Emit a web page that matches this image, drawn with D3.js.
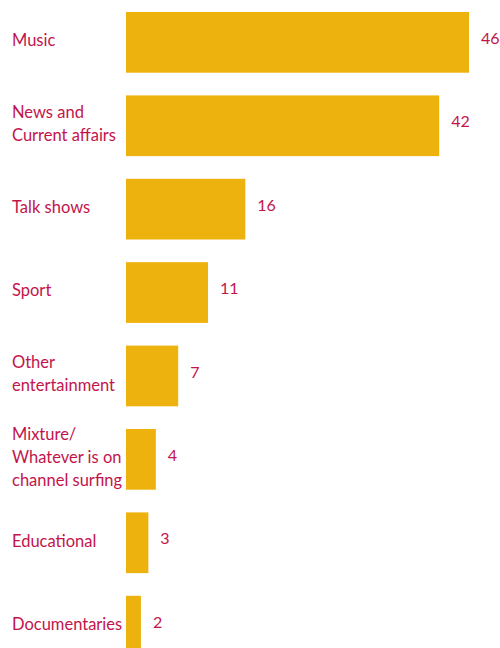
<!DOCTYPE html>
<html>
<head>
<meta charset="utf-8">
<script src="https://cdn.jsdelivr.net/npm/d3@7"></script>
<style>
  html, body { margin: 0; padding: 0; background: #fff; }
  svg { display: block; }
  text { font-family: Lato, "Noto Sans", sans-serif; }
</style>
</head>
<body>
<script>
// Favourite programme types, in percent
const categories = [
  "Music",
  "News and\nCurrent affairs",
  "Talk shows",
  "Sport",
  "Other\nentertainment",
  "Mixture/\nWhatever is on\nchannel surfing",
  "Educational",
  "Documentaries"
];
const values = [46, 42, 16, 11, 7, 4, 3, 2];

const width = 500, height = 648;
const barColor = "#edb20e";
const textColor = "#c2144b";

const svg = d3.select("body").append("svg")
  .attr("width", width)
  .attr("height", height);

const x = d3.scaleLinear().domain([0, 46]).range([126, 469]);
const y = d3.scaleBand().domain(categories).range([12, 656.5]).paddingInner(0.272);

const rows = svg.selectAll("g.row")
  .data(categories.map((c, i) => ({ c, v: values[i] })))
  .join("g")
  .attr("class", "row");

rows.append("rect")
  .attr("x", x(0))
  .attr("y", d => y(d.c))
  .attr("width", d => x(d.v) - x(0))
  .attr("height", y.bandwidth())
  .attr("fill", barColor);

// value labels to the right of each bar
rows.append("text")
  .attr("x", d => x(d.v) + 12)
  .attr("y", d => y(d.c) + y.bandwidth() / 2 - 4)
  .attr("dy", "0.35em")
  .attr("fill", textColor)
  .attr("font-size", 16)
  .text(d => d.v);

// category labels, possibly on several lines, centred on the bar
const lineH = 23;
rows.append("text")
  .attr("fill", textColor)
  .attr("font-size", 16.5)
  .each(function (d) {
    const lines = d.c.split("\n");
    const cy = y(d.c) + y.bandwidth() / 2 - 2;
    const t = d3.select(this);
    lines.forEach((ln, i) => {
      t.append("tspan")
        .attr("x", 12)
        .attr("y", cy + (i - (lines.length - 1) / 2) * lineH)
        .attr("dy", "0.35em")
        .text(ln);
    });
  });
</script>
</body>
</html>
